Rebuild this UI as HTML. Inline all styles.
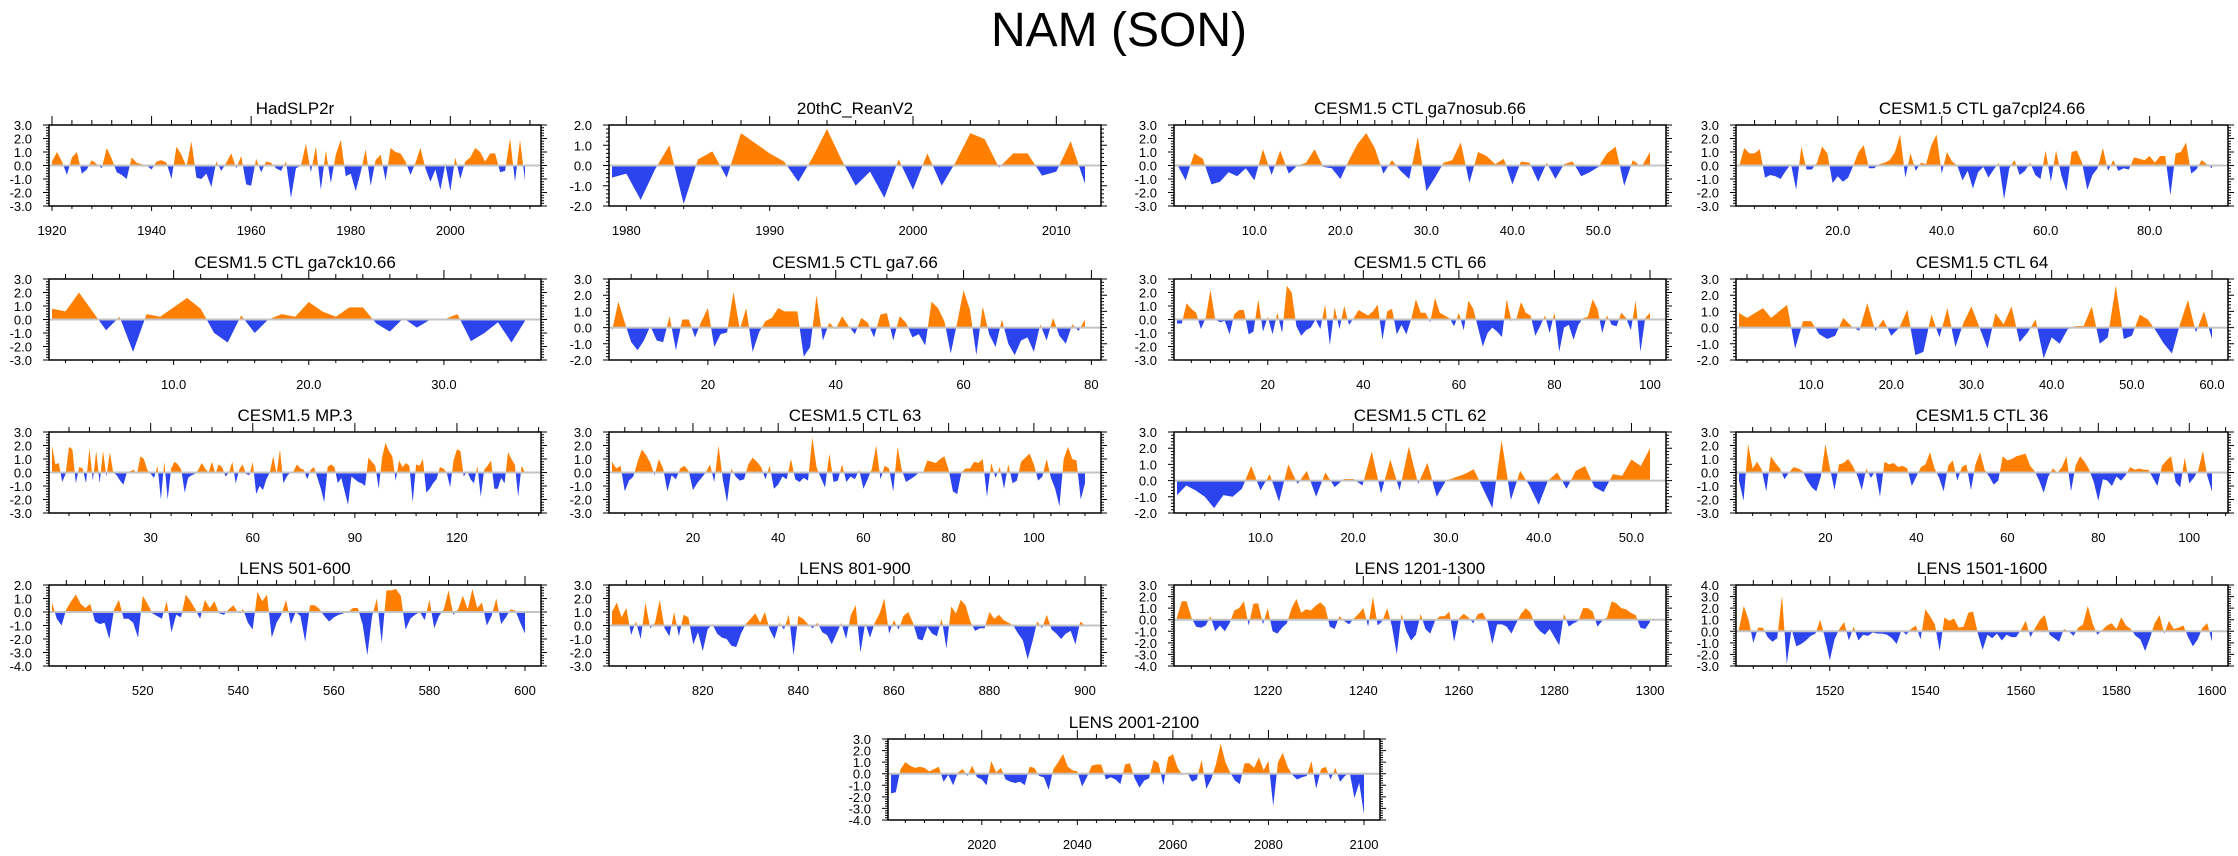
<!DOCTYPE html>
<html><head><meta charset="utf-8"><title>NAM (SON)</title>
<style>
html,body{margin:0;padding:0;background:#fff;}
svg{display:block;font-family:"Liberation Sans",Arial,sans-serif;}
</style></head>
<body>
<svg id="chart" width="2238" height="856" viewBox="0 0 2238 856" xmlns="http://www.w3.org/2000/svg">
<rect width="2238" height="856" fill="#fff"/>
<text x="1119" y="46" font-size="48" text-anchor="middle" fill="#000">NAM (SON)</text>
</svg>
<script>
// ---- data arrays ----
const hadslpStart = 1920;
const hadslpValues = [0.3,1.0,0.3,-0.7,0.6,1.0,-0.6,-0.3,0.4,0.1,-0.2,1.3,0.5,-0.5,-0.7,-1.0,0.6,0.2,0.1,0.0,-0.3,0.3,0.4,0.2,-1.0,1.4,0.8,-0.1,1.8,-0.9,-1.0,-0.6,-1.6,0.3,-0.4,0.2,0.9,-0.2,0.7,-1.4,-1.5,0.5,-0.5,0.3,0.2,-0.2,-0.4,0.3,-2.4,-0.2,0.0,1.6,-0.5,1.4,-1.8,1.1,-1.3,0.8,1.9,-0.8,-0.6,-1.9,-0.5,1.2,-1.5,0.4,0.8,-1.1,1.3,1.0,0.9,0.3,-0.7,0.2,1.3,-0.2,-1.2,-0.3,-1.8,0.1,-1.9,0.6,-1.0,0.3,0.6,1.3,1.0,0.3,0.9,0.9,-0.5,-0.4,2.0,-1.2,1.9,-1.1];
const reanStart = 1979;
const reanValues = [-0.6,-0.4,-1.7,-0.2,1.0,-1.9,0.3,0.7,-0.6,1.6,1.1,0.6,0.2,-0.8,0.4,1.8,0.3,-1.0,-0.3,-1.6,0.3,-1.2,0.6,-1.0,0.2,1.6,1.3,-0.1,0.6,0.6,-0.5,-0.3,1.2,-0.9];
const nosubValues = [0.1,-1.1,0.9,0.5,-1.4,-1.2,-0.5,-0.8,-0.2,-1.1,1.2,-0.7,1.1,-0.6,0.0,0.2,1.2,-0.1,-0.2,-1.0,0.4,1.6,2.4,1.3,-0.6,0.4,-0.4,-1.0,2.1,-1.9,-0.9,0.2,0.4,1.7,-1.3,1.0,0.7,0.1,0.5,-1.4,0.3,0.2,-1.2,0.2,-1.0,0.1,0.3,-0.8,-0.5,-0.1,0.9,1.4,-1.5,0.4,-0.1,1.0];
const cpl24Values = [-0.1,1.3,0.9,0.9,1.2,-0.9,-0.7,-0.8,-1.0,-0.4,0.1,-1.8,1.4,-0.3,-0.3,0.2,1.4,0.9,-1.3,-0.8,-1.2,-0.9,0.0,1.0,1.5,-0.2,-0.2,0.1,0.2,0.4,1.0,2.3,-0.9,0.9,-0.4,0.2,0.1,1.5,2.3,-0.6,1.0,0.3,0.0,-1.1,-0.4,-1.7,-0.5,-0.1,-0.9,-0.3,0.2,-2.5,-0.2,0.4,-0.7,-0.4,0.2,-0.7,-1.0,1.1,-1.2,1.1,-0.7,-1.9,1.0,1.1,0.2,-1.8,-0.7,-0.2,1.3,-0.4,0.4,-0.4,-0.2,-0.3,0.6,0.5,0.4,0.7,0.2,0.7,0.7,-2.2,0.9,1.0,1.7,-0.6,-0.3,0.4,0.1,-0.2];
const ck10Values = [0.8,0.6,2.0,0.6,-0.8,0.2,-2.4,0.4,0.2,0.9,1.6,0.8,-1.0,-1.7,0.3,-1.0,0.0,0.4,0.2,1.3,0.6,0.2,0.9,0.9,-0.3,-0.9,0.1,-0.6,0.0,0.0,0.4,-1.6,-1.0,-0.2,-1.7,-0.1];
const ga7Start = 5;
const ga7Values = [-0.2,1.6,0.3,-0.9,-1.4,-0.8,0.1,-0.8,-0.9,0.7,-1.4,0.5,0.5,-0.6,0.4,1.2,-1.2,-0.4,-0.3,2.2,-0.1,1.2,-1.5,-0.3,0.4,0.6,1.2,1.0,1.0,1.0,-1.8,-1.2,2.0,-0.8,0.3,-0.1,0.7,0.1,-0.4,0.6,0.3,-0.6,0.8,0.9,-0.8,0.7,0.3,-0.6,-0.4,-1.1,1.6,1.2,0.4,-1.6,0.3,2.3,1.1,-1.7,1.3,-0.4,-1.2,0.5,-1.0,-1.7,-0.8,-0.6,-1.5,0.2,-0.8,0.6,-0.5,-1.0,0.2,-0.2,0.5];
const ctl66Values = [-0.3,-0.3,1.2,0.8,0.5,-0.7,0.1,2.2,0.0,-0.2,-0.1,-1.1,0.4,0.7,0.7,-1.1,-0.9,1.5,-0.9,0.2,-1.1,0.5,-1.0,2.5,2.0,-0.5,-1.2,-0.8,-0.6,0.0,-0.7,1.1,-1.9,0.9,-0.7,1.0,-0.4,0.1,0.7,0.5,0.3,0.6,1.1,-1.5,0.6,0.8,-1.1,-0.4,-1.1,0.0,1.5,0.5,0.5,-0.2,1.6,0.5,0.3,0.1,-0.5,0.5,-0.8,1.4,0.8,-0.6,-2.0,-1.0,-0.6,-0.9,-1.3,1.5,-0.1,0.0,1.3,0.5,0.3,-1.2,-0.5,0.3,-1.0,0.5,-2.4,-0.6,-0.4,-1.5,-0.4,0.1,0.2,1.5,0.8,-1.0,0.3,-0.4,-0.5,0.5,0.1,-0.8,1.4,-2.4,0.1,0.5];
const ctl64Values = [0.9,0.6,0.9,1.2,0.6,1.0,1.4,-1.3,0.4,0.4,-0.4,-0.7,-0.5,0.6,0.1,-0.2,1.5,-0.2,0.5,-0.5,0.0,1.1,-1.7,-1.5,0.8,-0.6,1.2,-1.2,0.3,1.3,0.0,-1.3,0.9,0.2,1.3,-0.9,-0.3,0.5,-1.9,-0.6,-1.0,-0.1,0.1,0.1,1.3,-1.0,-0.6,2.6,-0.7,-0.5,0.8,0.5,-0.2,-1.0,-1.6,0.2,1.7,-0.3,1.0,-0.7];
const mp3Values = [2.0,0.6,0.7,-0.7,-0.1,1.9,1.7,-0.8,0.4,0.3,-0.8,1.8,-0.6,1.6,-0.8,1.6,-0.3,1.5,0.0,-0.2,-0.6,-0.9,0.0,0.1,0.2,-0.1,1.2,1.0,0.2,-0.1,-0.4,0.5,-2.0,0.8,-2.0,0.3,0.8,0.6,0.2,-1.5,-0.4,-0.2,-0.1,0.2,0.7,0.3,0.0,0.8,-0.1,0.6,0.4,-0.3,0.0,0.8,-0.8,0.2,0.6,-0.1,-0.2,0.8,-1.6,-1.0,-1.3,-0.5,0.0,1.2,-0.1,1.7,-0.8,-0.3,0.0,0.1,0.6,0.3,0.2,-0.5,0.2,0.4,-0.4,-1.2,-2.2,0.4,0.6,0.4,-0.8,-0.4,-1.4,-2.4,-0.3,-0.5,-0.7,-0.8,-1.0,1.1,0.8,0.5,-1.2,1.1,2.2,1.6,1.2,-0.6,0.9,0.4,0.7,0.5,-2.2,0.6,0.5,1.0,-1.5,-1.2,-0.8,-0.5,0.4,0.3,0.0,-1.1,0.9,1.7,1.6,-0.3,0.1,-0.5,-0.8,0.5,-1.8,0.2,0.5,0.9,-1.2,-1.2,-0.4,-0.8,1.5,1.0,0.6,-1.8,0.5,0.0];
const ctl63Values = [0.8,0.3,0.5,-1.4,-0.6,-0.3,0.8,1.7,1.3,0.7,-0.2,1.0,0.3,-1.4,-0.2,-0.5,0.3,0.5,0.1,-1.3,-0.8,-0.4,0.0,0.6,-0.7,2.0,-0.5,-2.2,0.3,-0.3,-0.6,-0.5,0.6,1.1,0.8,0.4,-0.5,0.5,-1.2,-0.9,-0.3,-0.5,1.0,-0.5,-0.7,-0.4,-0.6,2.6,0.4,-0.4,-1.1,1.4,-0.7,-0.6,0.6,-0.7,-0.3,-0.5,0.2,-1.2,-0.5,0.3,2.0,-0.5,0.5,0.3,-1.4,1.9,0.2,-0.7,-0.5,-0.3,0.0,0.0,0.9,0.8,0.7,1.0,1.2,0.2,-1.4,-1.6,0.0,0.3,0.3,0.8,0.7,1.0,-1.8,0.7,-0.4,0.4,-1.2,0.6,-0.8,-0.6,0.8,1.1,1.4,0.6,-0.6,-0.3,1.0,-0.4,-1.2,-2.5,1.0,1.9,1.0,0.9,-2.0,-0.8];
const ctl62Values = [-0.9,-0.3,-0.6,-1.0,-1.7,-0.9,-1.0,-0.5,0.9,-0.6,0.4,-1.3,1.0,-0.2,0.6,-1.0,0.5,-0.4,0.1,0.1,-0.3,1.8,-0.8,1.3,-0.6,2.1,-0.2,1.1,-1.0,0.0,0.2,0.4,0.7,-0.5,-1.7,2.5,-1.2,0.6,-0.3,-1.5,0.0,0.5,-0.5,0.6,0.9,-0.4,-0.7,0.4,0.3,1.3,0.9,2.0];
const ctl36Values = [-0.6,-2.1,2.1,0.3,0.8,0.2,-1.4,1.2,0.7,0.3,-0.5,0.0,0.4,0.3,0.1,-0.6,-1.1,-1.4,-0.3,2.1,0.3,-1.3,0.6,0.7,1.0,0.5,-0.2,-1.3,0.3,-0.4,0.1,-1.8,0.8,0.6,0.7,0.4,0.5,0.3,-1.0,-0.3,0.4,0.6,1.5,0.3,-0.4,-1.4,0.5,0.9,-0.6,0.4,0.6,-1.3,0.6,1.5,0.2,-0.3,-0.9,-0.6,1.2,0.9,1.0,1.2,1.3,1.4,0.5,0.1,-0.6,-1.5,-0.3,0.3,0.0,0.4,1.2,-1.4,0.5,1.2,0.8,0.2,-0.7,-2.1,-0.5,-0.6,-1.0,-0.3,-0.6,-0.2,0.4,0.2,0.3,0.2,0.2,-0.4,-1.0,0.5,0.9,1.2,-0.7,-1.1,1.1,-0.8,-0.4,0.2,1.6,-0.3,-1.4];
const lens501Values = [0.7,-0.5,-1.0,0.2,0.8,1.3,0.6,0.3,0.6,-0.7,-0.9,-0.8,-2.0,0.2,0.9,-0.5,-0.5,-0.8,-1.9,1.2,0.6,-0.1,-0.3,-0.5,0.8,-1.5,-0.2,-0.4,1.3,0.8,0.2,-0.5,0.9,0.3,0.8,-0.1,-0.2,0.2,0.5,-0.1,0.2,-0.8,-1.3,1.5,0.8,1.3,-1.9,-0.8,-0.2,0.9,-0.9,0.0,-0.3,-2.2,0.5,0.5,0.2,-0.3,-0.7,-0.4,-0.2,-0.1,0.0,0.3,0.3,-0.9,-3.2,-0.3,1.0,-2.3,1.6,1.6,1.7,1.2,-1.3,-0.5,-0.2,0.0,-0.6,0.9,-1.2,-0.3,0.2,1.6,-0.2,0.2,1.2,0.2,1.7,0.3,0.7,-1.0,-0.3,1.0,-0.9,-0.4,0.2,0.1,-0.8,-1.6];
const lens801Values = [1.0,1.7,0.6,1.3,-0.7,0.3,-1.0,1.7,-0.2,0.2,1.9,-0.2,-0.8,1.0,-0.8,0.8,0.6,-1.4,-0.5,-1.9,-0.3,0.1,-0.6,-0.9,-1.0,-1.5,-1.6,-0.6,0.1,0.5,0.9,0.2,1.0,-0.3,-1.0,0.2,-0.3,0.8,-2.2,0.7,0.5,0.1,-0.2,0.2,-0.5,-0.7,-1.4,-0.6,0.2,-1.0,0.8,1.5,-2.0,0.2,-0.9,0.2,0.9,2.0,-0.6,0.4,-0.3,0.7,1.0,0.2,-1.0,-1.1,-0.1,-0.6,-0.8,0.5,-1.7,1.4,0.9,1.9,1.5,0.3,-0.4,-0.2,-0.2,1.0,0.5,0.8,0.4,0.2,0.0,-0.6,-1.1,-2.5,-1.2,0.3,-0.2,0.8,-0.3,-0.6,-1.0,-0.6,-0.4,-1.4,0.3,0.0];
const lens1201Values = [0.2,1.6,1.6,0.2,-0.6,-0.7,-0.5,0.3,-1.0,-0.5,-1.0,-0.3,0.8,1.0,1.6,-0.5,1.4,1.4,-0.4,1.0,-1.0,-1.2,-0.7,-0.3,1.0,1.8,0.6,0.9,0.8,1.2,1.5,1.1,-0.6,-0.8,0.3,-0.1,-0.4,0.1,0.5,1.0,-0.6,2.0,-0.5,-0.1,1.0,-0.6,-3.0,0.5,-1.0,-1.8,-1.3,0.5,-0.8,-1.2,-0.1,0.3,0.3,0.7,-1.9,0.1,0.5,0.2,-0.3,0.5,0.6,-0.2,-2.1,-0.4,-0.4,-0.6,-1.2,-0.3,0.5,1.0,0.6,-0.5,-1.0,-1.3,-0.8,-1.5,-2.2,0.5,-0.6,-0.3,-0.1,1.0,1.0,0.7,-0.6,-0.1,0.2,1.6,1.4,1.0,0.9,0.6,0.4,-0.7,-0.8,-0.2];
const lens1501Values = [0.2,2.2,1.0,-1.0,0.3,0.3,-0.5,-0.9,-0.6,3.1,-2.8,0.2,-1.3,-1.1,-0.8,-0.4,-0.2,1.0,-0.6,-2.5,-0.7,0.2,0.8,-0.8,0.4,-0.8,-0.3,-0.4,-0.1,-0.2,-0.2,-0.3,-0.6,-1.1,0.1,-0.3,0.2,0.5,-0.7,1.9,1.3,0.6,-1.7,1.2,0.9,1.1,0.3,0.4,1.6,1.7,-0.2,-1.6,-0.3,-0.6,-0.2,-0.8,-0.3,-0.5,-0.5,0.1,0.9,-0.5,0.3,1.0,1.4,-0.3,-0.6,-0.9,0.2,0.0,-0.4,0.3,0.6,2.2,0.7,-0.3,0.1,0.5,0.7,0.2,1.2,0.5,0.2,-0.4,-0.7,-1.7,-0.6,0.7,1.4,-0.2,0.9,0.2,0.3,0.5,-0.5,-1.3,-0.7,0.3,0.7,-0.9];
const lens2001Values = [-1.7,-1.6,0.4,1.0,0.7,0.5,0.6,0.5,0.2,0.4,0.6,-0.7,-0.1,-1.0,0.1,0.4,-0.2,0.7,-0.3,-0.5,-1.0,1.1,0.1,0.5,-0.5,-0.7,-0.8,-0.7,-1.0,0.6,0.5,-0.2,-0.3,-1.4,0.4,1.0,1.7,0.6,0.3,0.2,-1.1,-0.3,0.7,0.8,0.8,-0.5,-0.3,-0.5,-0.9,0.8,0.9,-0.4,-1.2,-0.6,-0.4,1.2,0.9,-1.0,1.4,1.7,0.5,-0.1,0.1,-0.7,-0.5,1.2,-1.3,-0.5,0.8,2.6,1.0,0.1,-0.6,-0.9,0.9,0.9,0.5,1.4,0.3,1.1,-2.8,1.0,1.8,0.6,-0.1,-0.5,-0.3,-0.2,1.1,-1.3,0.4,0.6,-0.5,0.5,-0.7,-0.2,0.1,-2.1,-0.8,-3.5];

// x tick labels per panel
const ticksHad = [1920,1940,1960,1980,2000];
const ticksRean = [1980,1990,2000,2010];
const ticksNosub = [10,20,30,40,50];
const ticksCpl = [20,40,60,80];
const ticksCk = [10,20,30];
const ticks20to80 = [20,40,60,80];
const ticks20to100 = [20,40,60,80,100];
const ticks10to60 = [10,20,30,40,50,60];
const ticksMp = [30,60,90,120];
const ticks10to50 = [10,20,30,40,50];
const ticksL501 = [520,540,560,580,600];
const ticksL801 = [820,840,860,880,900];
const ticksL1201 = [1220,1240,1260,1280,1300];
const ticksL1501 = [1520,1540,1560,1580,1600];
const ticksL2001 = [2020,2040,2060,2080,2100];

const NS = 'http://www.w3.org/2000/svg';
const svg = document.getElementById('chart');
const colL = [49, 609, 1174, 1736];
const PW = 492, PH = 81;
const rowT = [125, 279, 432, 585, 739];

function mk(tag, attrs, parent) {
  const e = document.createElementNS(NS, tag);
  for (const k in attrs) e.setAttribute(k, attrs[k]);
  (parent || svg).appendChild(e);
  return e;
}

let clipId = 0;
function panel(o) {
  const g = mk('g', {});
  
  
  const L = o.left, T = o.top, R = L + PW, B = T + PH;
  const n = o.values.length;
  const x0 = o.start, x1 = o.start + n - 1;
  const padL = 3, padR = 16;
  const sx = (PW - padL - padR) / (x1 - x0);
  const X = v => L + padL + (v - x0) * sx;
  const xmin = x0 - padL / sx, xmax = x1 + padR / sx;
  const Y = v => T + (o.ymax - v) / (o.ymax - o.ymin) * PH;
  const y0 = Y(0);

  // title
  const t = mk('text', {x: L + PW / 2, y: T - 11, 'font-size': 17, 'text-anchor': 'middle', fill: '#000'}, g);
  
  
  t.textContent = o.title;

  // clip paths
  const id = clipId++;
  const defs = mk('defs', {}, g);
  const cpA = mk('clipPath', {id: 'ca' + id}, defs);
  mk('rect', {x: L, y: T, width: PW, height: y0 - T}, cpA);
  const cpB = mk('clipPath', {id: 'cb' + id}, defs);
  mk('rect', {x: L, y: y0, width: PW, height: B - y0}, cpB);

  let d = 'M' + X(x0).toFixed(2) + ',' + y0.toFixed(2);
  o.values.forEach((v, i) => { d += 'L' + X(x0 + i).toFixed(2) + ',' + Y(v).toFixed(2); });
  d += 'L' + X(x1).toFixed(2) + ',' + y0.toFixed(2) + 'Z';
  const pa = mk('path', {d: d, fill: '#ff8000', 'clip-path': 'url(#ca' + id + ')'}, g);
  
  
  const pb = mk('path', {d: d, fill: '#2b44ee', 'clip-path': 'url(#cb' + id + ')'}, g);
  
  

  // zero line
  const zl = mk('line', {x1: L, x2: R, y1: y0, y2: y0, stroke: '#c4c4c4', 'stroke-width': 2}, g);
  
  

  // frame
  const fr = mk('rect', {x: L, y: T, width: PW, height: PH, fill: 'none', stroke: '#000', 'stroke-width': 1.5}, g);
  
  

  // x ticks
  const step = o.ticks.length > 1 ? o.ticks[1] - o.ticks[0] : 10;
  const minor = step / (o.minorN || 5);
  let tp = '';
  const start = Math.ceil((xmin - 1e-9) / minor) * minor;
  for (let v = start; v <= xmax + 1e-9; v += minor) {
    const isMaj = Math.abs(v / step - Math.round(v / step)) < 1e-6;
    const xx = X(v).toFixed(2);
    tp += 'M' + xx + ',' + T + 'v' + (isMaj ? -9 : -5);
    tp += 'M' + xx + ',' + B + 'v' + (isMaj ? 5 : 3);
  }
  // y ticks
  for (let k = Math.round(o.ymin * 5); k <= Math.round(o.ymax * 5); k++) {
    const v = k / 5, yy = Y(v).toFixed(2), isMaj = k % 5 === 0;
    tp += 'M' + L + ',' + yy + 'h' + (isMaj ? -6 : -3);
    tp += 'M' + R + ',' + yy + 'h' + (isMaj ? 6 : 3);
  }
  const tk = mk('path', {d: tp, stroke: '#000', 'stroke-width': 1, fill: 'none'}, g);
  
  

  o.ticks.forEach(v => {
    const tl = mk('text', {x: X(v), y: B + 29, 'font-size': 13, 'text-anchor': 'middle', fill: '#000'}, g);
    
    
    tl.textContent = o.dec ? v.toFixed(1) : String(v);
  });
  for (let v = o.ymin; v <= o.ymax; v++) {
    const yl = mk('text', {x: L - 17, y: Y(v) + 5, 'font-size': 13, 'text-anchor': 'end', fill: '#000'}, g);
    
    
    yl.textContent = v.toFixed(1);
  }
}

panel({name:'panel-hadslp2r', title:'HadSLP2r', left:colL[0], top:rowT[0], start:hadslpStart, values:hadslpValues, ymin:-3, ymax:3, ticks:ticksHad, dec:false});
panel({name:'panel-20thc-reanv2', title:'20thC_ReanV2', left:colL[1], top:rowT[0], start:reanStart, values:reanValues, ymin:-2, ymax:2, ticks:ticksRean, dec:false});
panel({name:'panel-ga7nosub', title:'CESM1.5 CTL ga7nosub.66', left:colL[2], top:rowT[0], start:1, values:nosubValues, ymin:-3, ymax:3, ticks:ticksNosub, dec:true});
panel({name:'panel-ga7cpl24', title:'CESM1.5 CTL ga7cpl24.66', left:colL[3], top:rowT[0], start:1, values:cpl24Values, ymin:-3, ymax:3, ticks:ticksCpl, dec:true});
panel({name:'panel-ga7ck10', title:'CESM1.5 CTL ga7ck10.66', left:colL[0], top:rowT[1], start:1, values:ck10Values, ymin:-3, ymax:3, ticks:ticksCk, dec:true});
panel({name:'panel-ga7', title:'CESM1.5 CTL ga7.66', left:colL[1], top:rowT[1], start:ga7Start, values:ga7Values, ymin:-2, ymax:3, ticks:ticks20to80, dec:false});
panel({name:'panel-ctl66', title:'CESM1.5 CTL 66', left:colL[2], top:rowT[1], start:1, values:ctl66Values, ymin:-3, ymax:3, ticks:ticks20to100, dec:false});
panel({name:'panel-ctl64', title:'CESM1.5 CTL 64', left:colL[3], top:rowT[1], start:1, values:ctl64Values, ymin:-2, ymax:3, ticks:ticks10to60, dec:true});
panel({name:'panel-mp3', title:'CESM1.5 MP.3', left:colL[0], top:rowT[2], start:1, values:mp3Values, ymin:-3, ymax:3, ticks:ticksMp, dec:false});
panel({name:'panel-ctl63', title:'CESM1.5 CTL 63', left:colL[1], top:rowT[2], start:1, values:ctl63Values, ymin:-3, ymax:3, ticks:ticks20to100, dec:false});
panel({name:'panel-ctl62', title:'CESM1.5 CTL 62', left:colL[2], top:rowT[2], start:1, values:ctl62Values, ymin:-2, ymax:3, ticks:ticks10to50, dec:true});
panel({name:'panel-ctl36', title:'CESM1.5 CTL 36', left:colL[3], top:rowT[2], start:1, values:ctl36Values, ymin:-3, ymax:3, ticks:ticks20to100, dec:false});
panel({name:'panel-lens-501-600', title:'LENS 501-600', left:colL[0], top:rowT[3], start:501, values:lens501Values, ymin:-4, ymax:2, ticks:ticksL501, dec:false});
panel({name:'panel-lens-801-900', title:'LENS 801-900', left:colL[1], top:rowT[3], start:801, values:lens801Values, ymin:-3, ymax:3, ticks:ticksL801, dec:false});
panel({name:'panel-lens-1201-1300', title:'LENS 1201-1300', left:colL[2], top:rowT[3], start:1201, values:lens1201Values, ymin:-4, ymax:3, ticks:ticksL1201, dec:false});
panel({name:'panel-lens-1501-1600', title:'LENS 1501-1600', left:colL[3], top:rowT[3], start:1501, values:lens1501Values, ymin:-3, ymax:4, ticks:ticksL1501, dec:false});
panel({name:'panel-lens-2001-2100', title:'LENS 2001-2100', left:888, top:rowT[4], start:2001, values:lens2001Values, ymin:-4, ymax:3, ticks:ticksL2001, dec:false});
</script>
</body></html>
